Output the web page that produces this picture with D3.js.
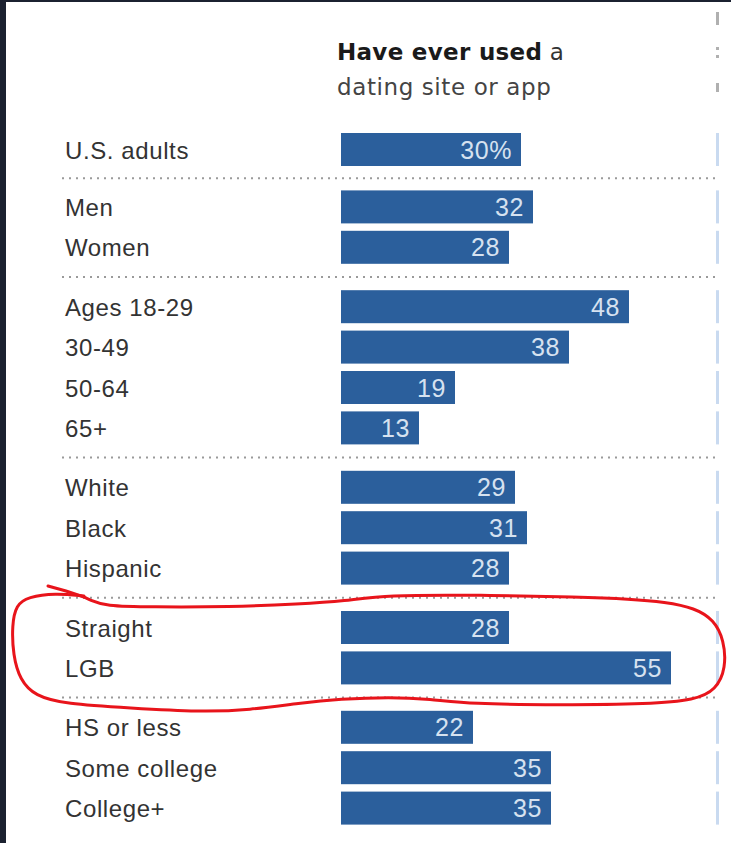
<!DOCTYPE html>
<html><head><meta charset="utf-8">
<script src="https://cdn.jsdelivr.net/npm/d3@7"></script>
<style>html,body{margin:0;padding:0;background:#1b2130;}svg{display:block;}</style>
</head><body>
<script>
const categories = ["U.S. adults","Men","Women","Ages 18-29","30-49","50-64","65+","White","Black","Hispanic","Straight","LGB","HS or less","Some college","College+"];
const groups = [0,1,1,2,2,2,2,3,3,3,4,4,5,5,5];
const values = [30,32,28,48,38,19,13,29,31,28,28,55,22,35,35];
const valueLabels = ["30%","32","28","48","38","19","13","29","31","28","28","55","22","35","35"];
const titleBold = "Have ever used";
const titleRest = " a";
const titleLine2 = "dating site or app";

const W = 731, H = 843;
const svg = d3.select("body").append("svg").attr("width", W).attr("height", H);
svg.append("rect").attr("x",6).attr("y",2).attr("width",W-6).attr("height",H-2).attr("fill","#fff");

const x = d3.scaleLinear().domain([0,55]).range([341,671]);
const pitch = 40.4, gap = 19, top0 = 133, barH = 33;
const slot = d3.scaleLinear().domain([0,1]).range([top0, top0+pitch]);
const yPos = (i) => slot(i) + groups[i]*gap - (groups[i]>0?2:0);

const font = "'Liberation Sans', Arial, sans-serif";
const tfont = "'DejaVu Sans', sans-serif";

// title
const t = svg.append("text").attr("x",337).attr("y",60).attr("font-family",tfont).attr("font-size",23).attr("letter-spacing",0.3).attr("fill","#333");
t.append("tspan").attr("font-weight","bold").attr("fill","#1a1a1a").text(titleBold);
t.append("tspan").text(titleRest);
svg.append("text").attr("x",337).attr("y",95).attr("font-family",tfont).attr("font-size",23).attr("letter-spacing",0.6).attr("fill","#444").text(titleLine2);

// separators
for (let i=1;i<categories.length;i++){
  if (groups[i]!==groups[i-1]){
    const yy = (yPos(i-1)+barH + yPos(i))/2;
    svg.append("line").attr("x1",62).attr("x2",720).attr("y1",yy).attr("y2",yy)
      .attr("stroke","#9a9a9a").attr("stroke-width",2).attr("stroke-dasharray","2,5");
  }
}

// bars
const rows = svg.selectAll("g.row").data(categories).join("g").attr("class","row");
rows.append("rect").attr("x",x(0)).attr("y",(d,i)=>yPos(i)).attr("width",(d,i)=>x(values[i])-x(0)).attr("height",barH).attr("fill","#2b5f9c");
rows.append("text").attr("x",(d,i)=>x(values[i])-9).attr("y",(d,i)=>yPos(i)+barH/2+9).attr("text-anchor","end")
  .attr("font-family",font).attr("font-size",25).attr("letter-spacing",0.6).attr("fill","#d6e2f0").text((d,i)=>valueLabels[i]);
rows.append("text").attr("x",65).attr("y",(d,i)=>yPos(i)+barH/2+9)
  .attr("font-family",font).attr("font-size",24).attr("letter-spacing",0.6).attr("fill","#333").text(d=>d);
// slivers of next column
rows.append("rect").attr("x",716).attr("y",(d,i)=>yPos(i)).attr("width",3).attr("height",barH).attr("fill","#c9daf0");

// next-column header fragments
[[12,13],[47,3],[55,3],[83,9]].forEach(([yy,h])=>{
  svg.append("rect").attr("x",716).attr("y",yy).attr("width",3).attr("height",h).attr("fill","#b0b0b0");
});

// red hand-drawn annotation
const hook = [[48,586],[66,591],[84,597]];
const loop = [[84,596],[55,593],[28,597],[16,605],[12,625],[13,655],[20,680],[35,696],[65,704],[130,708],[200,712],[250,710],[300,703],[340,699],[390,697],[430,699],[470,704],[560,705],[650,704],[695,700],[716,690],[726,668],[724,640],[714,620],[695,608],[665,602],[630,599],[580,597],[480,595],[385,595],[345,601],[300,604],[230,607],[150,607],[105,606],[90,600],[82,596]];
const line = d3.line().curve(d3.curveBasis);
svg.append("path").attr("d",d3.line()(hook)).attr("fill","none").attr("stroke","#e8141b").attr("stroke-width",3).attr("stroke-linecap","round");
svg.append("path").attr("d",line(loop)).attr("fill","none").attr("stroke","#e8141b").attr("stroke-width",3).attr("stroke-linecap","round");
</script>
</body></html>
